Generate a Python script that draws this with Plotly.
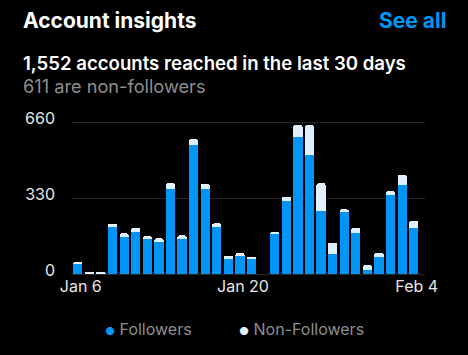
import plotly.graph_objects as go

days = ["Jan 6", "Jan 7", "Jan 8", "Jan 9", "Jan 10", "Jan 11", "Jan 12", "Jan 13",
        "Jan 14", "Jan 15", "Jan 16", "Jan 17", "Jan 18", "Jan 19", "Jan 20", "Jan 21",
        "Jan 22", "Jan 23", "Jan 24", "Jan 25", "Jan 26", "Jan 27", "Jan 28", "Jan 29",
        "Jan 30", "Jan 31", "Feb 1", "Feb 2", "Feb 3", "Feb 4"]
followers = [45, 0, 0, 204, 160, 181, 151, 139, 370, 154, 561, 371, 204, 65, 80,
             65, 0, 175, 319, 596, 519, 276, 87, 273, 178, 19, 75, 344, 389, 200]
non_followers = [8, 7, 7, 14, 17, 19, 13, 16, 25, 14, 26, 21, 16, 15, 11,
                 10, 0, 8, 17, 52, 129, 119, 49, 8, 22, 19, 18, 16, 42, 31]
y_ticks = [0, 330, 660]
x_ticks = ["Jan 6", "Jan 20", "Feb 4"]

BLUE = "#0095F6"
LIGHT = "#E0F0FF"
FONT = "Inter"

W, H = 468, 355
L, R, T, B = 71.5, 43, 115, 81
PW, PH = W - L - R, H - T - B


def px(x):
    return (x - L) / PW


def py(y):
    return (H - B - y) / PH


fig = go.Figure()
fig.add_trace(go.Bar(x=days, y=followers, name="Followers", marker_color=BLUE,
                     marker_line_width=0, showlegend=False))
fig.add_trace(go.Bar(x=days, y=non_followers, name="Non-Followers", marker_color=LIGHT,
                     marker_line_width=0, showlegend=False))

ann = [
    dict(text="<b>Account insights</b>", x=px(20.7), y=py(21), xanchor="left",
         font=dict(size=21, color="#FFFFFF")),
    dict(text="<b>See all</b>", x=px(448.3), y=py(21), xanchor="right",
         font=dict(size=21, color=BLUE)),
    dict(text="1,552 accounts reached in the last 30 days", x=px(20.7), y=py(63.5),
         xanchor="left", font=dict(size=18.6, color="#FFFFFF", weight=600)),
    dict(text="611 are non-followers", x=px(20.7), y=py(86), xanchor="left",
         font=dict(size=18.2, color="#8E8E8E")),
    dict(text=f"<span style='color:{BLUE};font-size:11px'>●</span> Followers",
         x=px(103), y=py(329), xanchor="left", font=dict(size=16, color="#8E8E8E")),
    dict(text=f"<span style='color:{LIGHT};font-size:11px'>●</span> Non-Followers",
         x=px(237), y=py(329), xanchor="left", font=dict(size=16, color="#8E8E8E")),
]
for a in ann:
    a.update(xref="paper", yref="paper", yanchor="middle", showarrow=False)

fig.update_layout(
    width=W, height=H,
    margin=dict(l=L, r=R, t=T, b=B, pad=0),
    paper_bgcolor="#000000", plot_bgcolor="#000000",
    barmode="stack", bargap=0.2, barcornerradius=2,
    font=dict(family=FONT, color="#E6E6E6"),
    annotations=ann,
    showlegend=False,
)
fig.update_xaxes(type="category", range=[-0.5, 29.97], tickvals=x_ticks,
                 showgrid=False, zeroline=False, showline=False, ticks="",
                 tickfont=dict(size=16, color="#E6E6E6"), ticklabelstandoff=1,
                 ticklabelshift=3)
fig.update_yaxes(range=[0, 692], tickvals=y_ticks, showgrid=True,
                 gridcolor="#262626", gridwidth=1, zeroline=True,
                 zerolinecolor="#262626", zerolinewidth=1, showline=False, ticks="",
                 tickfont=dict(size=16, color="#E6E6E6"), ticklabelstandoff=16,
                 ticklabelshift=-4)

fig.write_html(
    "out.html",
    config={"displayModeBar": False},
    post_script="document.body.style.margin='0';document.body.style.background='#000';",
)
